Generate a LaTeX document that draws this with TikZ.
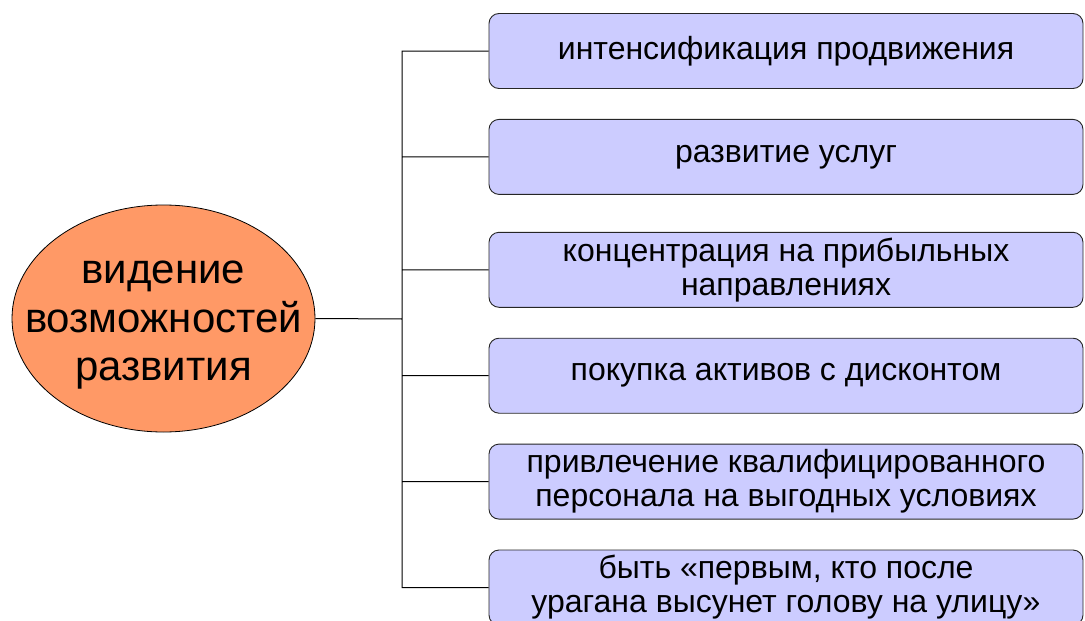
\documentclass[tikz,border=0pt]{standalone}
\usepackage{fontspec}
\setmainfont{Liberation Sans}
\usetikzlibrary{shapes.geometric, positioning}
\definecolor{coreorange}{RGB}{255,153,102}
\definecolor{waylilac}{RGB}{204,204,255}
\tikzset{
node distance=30pt, % gap between two boxes of the list
core/.style={ellipse, draw, line width=0.8pt, fill=coreorange, inner sep=0pt, minimum width=303pt, minimum height=227pt}, % the central idea
coretext/.style={align=center, inner sep=0pt, font=\fontsize{42pt}{48.5pt}\selectfont}, % its words
way/.style={rectangle, rounded corners=10pt, draw=black!85, line width=0.9pt, fill=waylilac, minimum width=594pt, minimum height=75pt, align=center, font=\fontsize{32pt}{34pt}\selectfont}, % one direction of development
link/.style={line width=1pt, black}, % the tree lines
}
\begin{document}
\begin{tikzpicture}
    \clip (0,0) rectangle (1085pt,-621pt);
    \node[core] (idea) at (163.5pt,-318.5pt) {};
    \node[coretext] (ideatext) at ([yshift=-7pt]idea.center) {видение\\возможностей\\развития};
    \node[way] (w1) at (786pt,-51pt) {интенсификация продвижения};
    \node[way, below=of w1] (w2) {развитие услуг};
    \node[way, below=37pt of w2] (w3) {концентрация на прибыльных\\направлениях};
    \node[way, below=of w3] (w4) {покупка активов с дисконтом};
    \node[way, below=of w4] (w5) {привлечение квалифицированного\\персонала на выгодных условиях};
    \node[way, below=of w5] (w6) {быть «первым, кто после\\урагана высунет голову на улицу»};
    \coordinate (trunk) at (402pt,-319pt);
    \draw[link] (idea.east) -- (trunk)
    (w1.west) -- (w1.west -| trunk) -- (w6.west -| trunk) -- (w6.west)
    (w2.west) -- (w2.west -| trunk)
    (w3.west) -- (w3.west -| trunk)
    (w4.west) -- (w4.west -| trunk)
    (w5.west) -- (w5.west -| trunk);
\end{tikzpicture}
\end{document}
